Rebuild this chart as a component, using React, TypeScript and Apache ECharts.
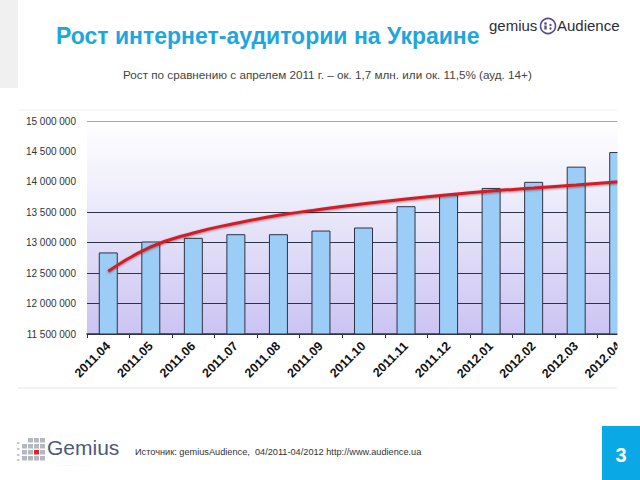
import React, { useEffect, useRef } from "react";
import * as echarts from "echarts";

const categories = [
  "2011.04", "2011.05", "2011.06", "2011.07", "2011.08", "2011.09", "2011.10",
  "2011.11", "2011.12", "2012.01", "2012.02", "2012.03", "2012.04",
];
const audience = [
  12840000, 13020000, 13080000, 13140000, 13140000, 13200000, 13250000,
  13600000, 13790000, 13900000, 14000000, 14250000, 14490000,
];
const trend = [
  12530000, 12930000, 13160000, 13320000, 13450000, 13550000, 13640000,
  13720000, 13790000, 13850000, 13900000, 13950000, 14000000,
];
const yMin = 11500000;
const yMax = 15000000;
const yStep = 500000;

const titleText = "Рост интернет-аудитории на Украине";
const subtitleText = "Рост по сравнению с апрелем 2011 г. – ок. 1,7 млн. или ок. 11,5% (ауд. 14+)";
const sourceText = "Источник: gemiusAudience,  04/2011-04/2012 http://www.audience.ua";
const pageNumber = "3";

const FONT = "'Liberation Sans', Arial, sans-serif";

function fmt(v: number) {
  return String(v).replace(/\B(?=(\d{3})+(?!\d))/g, " ");
}

function gemiusSquares() {
  const els: any[] = [];
  const cols = [22, 28, 34, 40];
  const rows = [438, 444, 450, 456];
  cols.forEach((cx, ci) => {
    rows.forEach((ry, ri) => {
      if (ci === 0 && ri === 0) return;
      const red = ci === 2 && ri === 2;
      els.push({
        type: "rect",
        shape: { x: cx, y: ry, width: 5, height: 4.5 },
        style: { fill: red ? "#d8262b" : "#b4b8c0" },
      });
    });
  });
  [442, 448, 454, 459].forEach((ry) => {
    els.push({ type: "rect", shape: { x: 17, y: ry, width: 2.5, height: 2 }, style: { fill: "#c4c7cc" } });
  });
  return els;
}

export default function App() {
  const ref = useRef<HTMLDivElement>(null);
  useEffect(() => {
    if (!ref.current) return;
    const chart = echarts.init(ref.current, undefined, { renderer: "svg" });
    const dark = "#2d3446";
    chart.setOption({
      animation: false,
      backgroundColor: "#ffffff",
      title: [
        {
          text: titleText,
          left: 51,
          top: 19,
          textStyle: { fontFamily: FONT, fontSize: 23, fontWeight: "bold", color: "#1ea6df" },
        },
        {
          text: subtitleText,
          left: 118,
          top: 63,
          textStyle: { fontFamily: FONT, fontSize: 11.7, fontWeight: "normal", color: "#444444" },
        },
      ],
      grid: {
        left: 87,
        right: -5,
        top: 121,
        bottom: 146,
        show: true,
        borderWidth: 0,
        backgroundColor: {
          type: "linear", x: 0, y: 0, x2: 0, y2: 1,
          colorStops: [
            { offset: 0, color: "#ffffff" },
            { offset: 0.35, color: "#eeedfb" },
            { offset: 1, color: "#cbc3f2" },
          ],
        },
      },
      xAxis: {
        type: "category",
        data: categories,
        boundaryGap: true,
        axisLine: { show: true, lineStyle: { color: dark, width: 1.5 } },
        axisTick: { show: true, length: 4, lineStyle: { color: dark } },
        axisLabel: {
          rotate: 45,
          margin: 10,
          interval: 0,
          fontFamily: FONT,
          fontSize: 12.5,
          fontWeight: "bold",
          color: "#111111",
        },
        splitLine: { show: false },
      },
      yAxis: {
        type: "value",
        min: yMin,
        max: yMax,
        interval: yStep,
        axisLine: { show: false },
        axisTick: { show: false },
        axisLabel: {
          margin: 11,
          fontFamily: FONT,
          fontSize: 10,
          color: "#333333",
          formatter: (v: number) => fmt(v),
        },
        splitLine: {
          show: true,
          lineStyle: {
            width: 1,
            color: [dark, dark, dark, dark, dark, "rgba(0,0,0,0)", "rgba(0,0,0,0)", "#a8a8a8"],
          },
        },
      },
      series: [
        {
          type: "bar",
          data: audience,
          barWidth: 19,
          itemStyle: { color: "#9ccdf6", borderColor: dark, borderWidth: 1 },
          z: 2,
        },
        {
          type: "line",
          data: trend,
          smooth: true,
          symbol: "none",
          lineStyle: {
            color: "#d41f27",
            width: 3,
            shadowColor: "rgba(60,0,0,0.45)",
            shadowBlur: 2,
            shadowOffsetY: 1,
          },
          z: 3,
        },
      ],
      graphic: [
        { type: "rect", shape: { x: 0, y: 0, width: 18, height: 88 }, style: { fill: "#f0f0f0" }, z: 1 },
        { type: "line", shape: { x1: 18, y1: 110, x2: 617, y2: 110 }, style: { stroke: "#efefef", lineWidth: 1 }, z: 1 },
        { type: "line", shape: { x1: 18, y1: 388, x2: 617, y2: 388 }, style: { stroke: "#e4e4e4", lineWidth: 1 }, z: 1 },
        { type: "rect", shape: { x: 617.5, y: 100, width: 30, height: 300 }, style: { fill: "#ffffff" }, z: 100 },
        // gemius Audience logo (top right)
        {
          type: "text", x: 489, y: 25, z: 101,
          style: { text: "gemius", fontFamily: FONT, fontSize: 15, fill: "#2c2c38", verticalAlign: "middle" },
        },
        {
          type: "circle", z: 101,
          shape: { cx: 548, cy: 26, r: 7.5 },
          style: { fill: "#ffffff", stroke: "#5b4c8c", lineWidth: 1.6 },
        },
        { type: "circle", z: 102, shape: { cx: 545.5, cy: 23.5, r: 1.3 }, style: { fill: "#5b4c8c" } },
        { type: "rect", z: 102, shape: { x: 544.3, y: 25.5, width: 2.4, height: 4 }, style: { fill: "#5b4c8c" } },
        { type: "circle", z: 102, shape: { cx: 550.5, cy: 25, r: 1.2 }, style: { fill: "#5b4c8c" } },
        { type: "circle", z: 102, shape: { cx: 550.5, cy: 28.5, r: 1.2 }, style: { fill: "#5b4c8c" } },
        {
          type: "text", x: 557, y: 25, z: 101,
          style: { text: "Audience", fontFamily: FONT, fontSize: 15, fill: "#2c2c38", verticalAlign: "middle" },
        },
        // footer Gemius logo
        { type: "group", children: gemiusSquares() },
        {
          type: "text", x: 47, y: 447,
          style: { text: "Gemius", fontFamily: FONT, fontSize: 21, fill: "#4d5a78", verticalAlign: "middle" },
        },
        {
          type: "text", x: 56, y: 465,
          style: { text: "· · · · · · · · · · · · · ·", fontFamily: FONT, fontSize: 4, fill: "#9aa0ab", verticalAlign: "middle" },
        },
        {
          type: "text", x: 135, y: 452,
          style: { text: sourceText, fontFamily: FONT, fontSize: 9.2, fill: "#333333", verticalAlign: "middle" },
        },
        // page number box
        { type: "rect", shape: { x: 602, y: 426, width: 38, height: 54 }, style: { fill: "#0aa9e6" } },
        {
          type: "text", x: 621, y: 455,
          style: {
            text: pageNumber, fontFamily: FONT, fontSize: 20, fontWeight: "bold", fill: "#ffffff",
            align: "center", verticalAlign: "middle",
          },
        },
      ],
    });
    return () => chart.dispose();
  }, []);
  return (
    <div
      ref={ref}
      style={{ position: "fixed", left: 0, top: 0, width: 640, height: 480 }}
    />
  );
}
